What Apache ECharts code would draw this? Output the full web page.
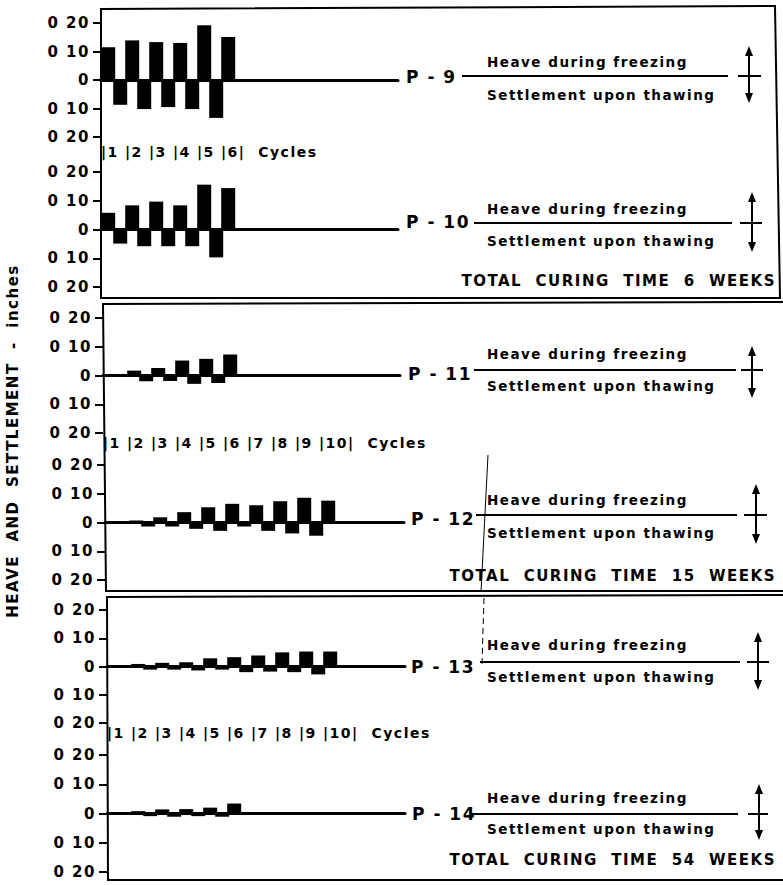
<!DOCTYPE html>
<html>
<head>
<meta charset="utf-8">
<script src="https://cdn.jsdelivr.net/npm/echarts@6/dist/echarts.min.js"></script>
<style>
  html, body { margin: 0; padding: 0; background: #fff; }
  #main { width: 783px; height: 885px; }
  /* the original lettering is widely spaced */
  #main svg text { letter-spacing: 1.5px; }
</style>
</head>
<body>
<div id="main"></div>
<script>
// heave (+) and settlement (-) per freeze-thaw cycle, inches
var panelNames = ['P-9', 'P-10', 'P-11', 'P-12', 'P-13', 'P-14']

var heaveP9 = [0.115, 0.139, 0.133, 0.130, 0.192, 0.151]
var settleP9 = [-0.087, -0.102, -0.095, -0.102, -0.133]
var heaveP10 = [0.058, 0.084, 0.097, 0.084, 0.156, 0.144]
var settleP10 = [-0.049, -0.058, -0.058, -0.058, -0.097]
var heaveP11 = [0.004, 0.017, 0.026, 0.052, 0.058, 0.073]
var settleP11 = [-0.004, -0.020, -0.019, -0.029, -0.026]
var heaveP12 = [0.003, 0.007, 0.018, 0.036, 0.053, 0.065, 0.060, 0.074, 0.086, 0.076]
var settleP12 = [-0.004, -0.014, -0.014, -0.022, -0.029, -0.014, -0.029, -0.038, -0.046]
var heaveP13 = [0.003, 0.009, 0.013, 0.015, 0.029, 0.033, 0.039, 0.050, 0.053, 0.053]
var settleP13 = [-0.004, -0.011, -0.011, -0.014, -0.011, -0.020, -0.018, -0.020, -0.028]
var heaveP14 = [0.003, 0.008, 0.014, 0.015, 0.020, 0.034]
var settleP14 = [-0.003, -0.009, -0.011, -0.009, -0.011]

var heaveData = [heaveP9, heaveP10, heaveP11, heaveP12, heaveP13, heaveP14]
var settleData = [settleP9, settleP10, settleP11, settleP12, settleP13, settleP14]

var curingTexts = ['TOTAL CURING TIME 6 WEEKS', 'TOTAL CURING TIME 15 WEEKS', 'TOTAL CURING TIME 54 WEEKS']
var heaveText = 'Heave during freezing'
var settleText = 'Settlement upon thawing'
var cyclesWord = 'Cycles'
var yTitle = 'HEAVE AND SETTLEMENT - inches'

var CW = 24 // px per cycle
var FONT = '"DejaVu Sans", sans-serif'

// pixel layout of each panel and its legend
var layout = [
  { left: 101, top: 23, height: 114, right: 398, label: [406, 77], frac: [462, 728, 76], hy: 62, sy: 95, arrow: [749, 46, 103], cross: [738, 761] },
  { left: 101, top: 172, height: 115, right: 398, label: [406, 222], frac: [474, 732, 223], hy: 209, sy: 241, arrow: [752, 192, 252], cross: [740, 762] },
  { left: 103, top: 318, height: 115, right: 400, label: [408, 374], frac: [474, 736, 370], hy: 354, sy: 386, arrow: [752, 346, 398], cross: [741, 763] },
  { left: 105, top: 465, height: 115, right: 404, label: [411, 519], frac: [476, 737, 515], hy: 500, sy: 533, arrow: [756, 484, 544], cross: [744, 767] },
  { left: 107, top: 610, height: 113, right: 405, label: [411, 667], frac: [480, 740, 662], hy: 645, sy: 677, arrow: [758, 632, 690], cross: [747, 769] },
  { left: 107, top: 755, height: 117, right: 405, label: [412, 814], frac: [470, 738, 814], hy: 798, sy: 829, arrow: [759, 784, 840], cross: [748, 768] }
]
var boxes = [
  [[101, 9], [775, 6], [780, 298], [101, 298]],
  [[103, 304], [790, 302], [790, 591], [106, 591]],
  [[107, 597], [790, 595], [790, 880], [108, 880]]
]
var cycleRowMargin = [8, 3, 3]
var curingY = [281, 576, 860]

function txt (x, y, str, size, align, rot) {
  return {
    type: 'text', x: x, y: y, rotation: rot || 0, silent: true,
    style: { text: str, font: 'bold ' + size + 'px ' + FONT, fill: '#000', textAlign: align || 'left', textVerticalAlign: 'middle' }
  }
}
function seg (x1, y1, x2, y2, w, dash) {
  return { type: 'line', silent: true, shape: { x1: x1, y1: y1, x2: x2, y2: y2 }, style: { stroke: '#000', lineWidth: w || 2, lineDash: dash || null } }
}
function tri (pts) {
  return { type: 'polygon', silent: true, shape: { points: pts }, style: { fill: '#000' } }
}

var grids = []
var xAxes = []
var yAxes = []
var series = []
var graphics = []

layout.forEach(function (p, i) {
  var width = p.right - p.left
  var maxX = width / CW
  grids.push({ left: p.left, top: p.top, width: width, height: p.height, containLabel: false, outerBoundsMode: 'none' })
  xAxes.push({
    type: 'value', gridIndex: i, min: 0, max: maxX, position: 'top',
    axisLine: { onZero: true, lineStyle: { color: '#000', width: 3 } },
    axisTick: { show: false }, axisLabel: { show: false }, splitLine: { show: false }
  })
  yAxes.push({
    type: 'value', gridIndex: i, min: -0.2, max: 0.2, interval: 0.1,
    axisLine: { show: false },
    axisTick: { show: true, length: 8, lineStyle: { color: '#000', width: 2 } },
    axisLabel: {
      margin: 11, color: '#000', fontSize: 15, fontWeight: 'bold', fontFamily: FONT,
      formatter: function (v) {
        if (Math.abs(v) < 1e-9) return '0'
        return '0 ' + Math.round(Math.abs(v) * 100)
      }
    },
    splitLine: { show: false }
  })
  var data = []
  heaveData[i].forEach(function (h, k) { data.push([k + 0.3, h]) })
  settleData[i].forEach(function (s, k) { data.push([k + 0.8, s]) })
  series.push({
    type: 'bar', xAxisIndex: i, yAxisIndex: i, barWidth: 14, silent: true,
    itemStyle: { color: '#000' }, data: data
  })

  // legend block on the right: P-label, fraction line, arrow
  graphics.push(txt(p.label[0], p.label[1], panelNames[i].replace('-', ' - '), 17))
  graphics.push(seg(p.frac[0], p.frac[2], p.frac[1], p.frac[2], 2))
  graphics.push(txt(487, p.hy, heaveText, 13.5))
  graphics.push(txt(487, p.sy, settleText, 13.5))
  var ax = p.arrow[0]
  graphics.push(seg(ax, p.arrow[1] + 6, ax, p.arrow[2] - 6, 2))
  graphics.push(tri([[ax, p.arrow[1]], [ax - 4, p.arrow[1] + 10], [ax + 4, p.arrow[1] + 10]]))
  graphics.push(tri([[ax, p.arrow[2]], [ax - 4, p.arrow[2] - 10], [ax + 4, p.arrow[2] - 10]]))
  graphics.push(seg(p.cross[0], p.frac[2], p.cross[1], p.frac[2], 2))
})

// cycle number rows under the upper panel of each box
for (var b = 0; b < 3; b++) {
  var gi = b * 2
  var n = Math.max(heaveData[gi].length, heaveData[gi + 1].length)
  var w = layout[gi].right - layout[gi].left
  xAxes.push({
    type: 'value', gridIndex: gi, min: 0, max: w / CW, interval: 1, position: 'bottom',
    axisLine: { show: false, onZero: false }, axisTick: { show: false }, splitLine: { show: false },
    axisLabel: {
      margin: cycleRowMargin[b], align: 'left', color: '#000', fontSize: 14, fontWeight: 'bold', fontFamily: FONT,
      formatter: (function (count) {
        return function (v) {
          var k = Math.round(v)
          if (Math.abs(v - k) > 1e-6) return ''
          if (k < count - 1) return '|' + (k + 1)
          if (k === count - 1) return '|' + count + '|  ' + cyclesWord
          return ''
        }
      })(n)
    }
  })
}

boxes.forEach(function (pts) {
  graphics.push({ type: 'polygon', silent: true, shape: { points: pts }, style: { fill: 'none', stroke: '#000', lineWidth: 2 } })
})
curingTexts.forEach(function (t, i) {
  graphics.push(txt(776, curingY[i], t.split(' ').join('  '), 15, 'right'))
})
graphics.push(txt(13, 441, yTitle.split(' ').join('  '), 15, 'center', Math.PI / 2))
// stray pen line crossing the middle boxes
graphics.push(seg(488, 455, 481, 592, 1))
graphics.push(seg(484, 598, 482, 664, 1, [6, 4]))

var chart = echarts.init(document.getElementById('main'), null, { renderer: 'svg' })
chart.setOption({
  animation: false,
  backgroundColor: '#fff',
  grid: grids,
  xAxis: xAxes,
  yAxis: yAxes,
  series: series,
  graphic: { elements: graphics }
})
</script>
</body>
</html>
